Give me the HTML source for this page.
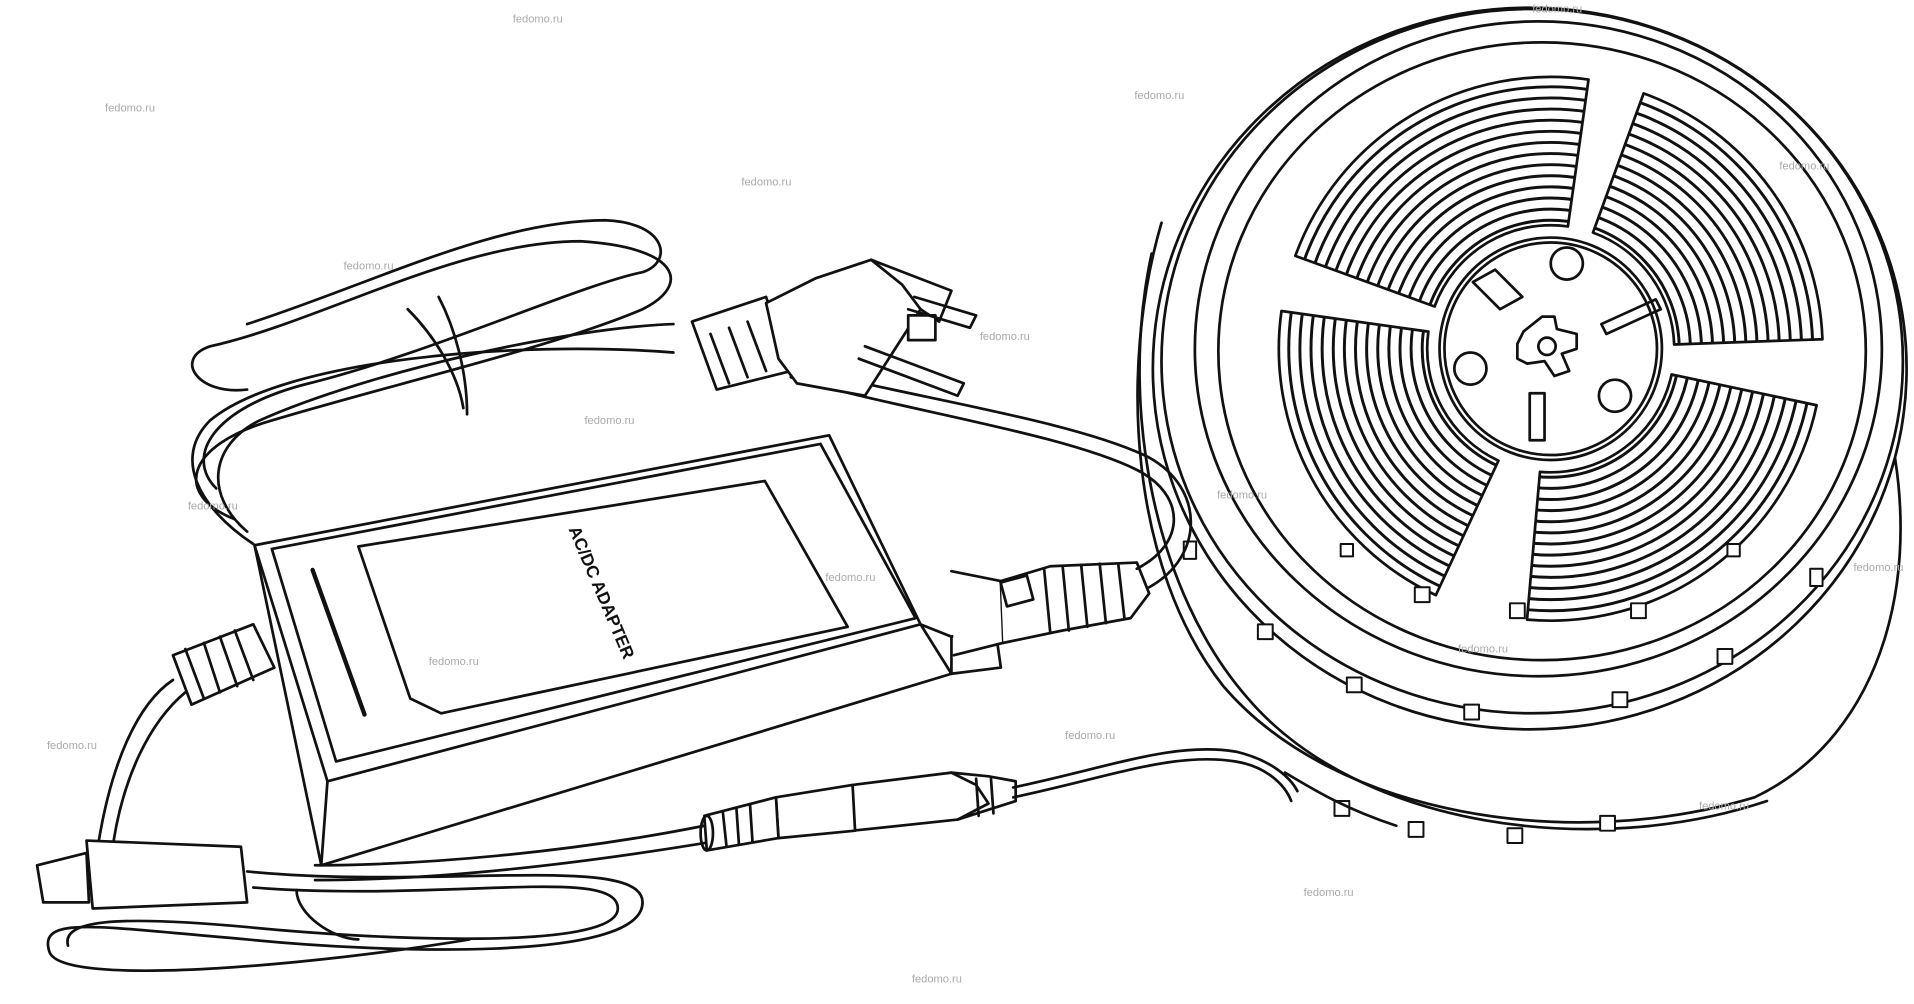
<!DOCTYPE html>
<html><head><style>
html,body{margin:0;padding:0;background:#fff;}
svg{display:block;}
text.w{font-family:"Liberation Sans",sans-serif;font-size:9px;fill:#aaa;}
</style></head><body>
<svg width="1914" height="1004" viewBox="0 0 1549 812" xmlns="http://www.w3.org/2000/svg">
<defs>
<clipPath id="w1"><path d="M1048.3 206.8 A220 220 0 0 1 1285.6 64.1 L1268.9 183 A100 100 0 0 0 1161 247.8 Z"/></clipPath>
<clipPath id="w2"><path d="M1330.2 75.3 A220 220 0 0 1 1474.9 274.3 L1354.9 278.5 A100 100 0 0 0 1289.2 188 Z"/></clipPath>
<clipPath id="w3"><path d="M1470.2 327.7 A220 220 0 0 1 1235.8 501.2 L1246.3 381.6 A100 100 0 0 0 1352.8 302.8 Z"/></clipPath>
<clipPath id="w4"><path d="M1162 481.4 A220 220 0 0 1 1037.1 251.4 L1156 268.1 A100 100 0 0 0 1212.7 372.6 Z"/></clipPath>
<g id="rings" fill="none" stroke="#111" stroke-width="2.4">
<circle cx="1255" cy="282" r="104"/><circle cx="1255" cy="282" r="113"/><circle cx="1255" cy="282" r="122"/>
<circle cx="1255" cy="282" r="131"/><circle cx="1255" cy="282" r="140"/><circle cx="1255" cy="282" r="149"/>
<circle cx="1255" cy="282" r="158"/><circle cx="1255" cy="282" r="167"/><circle cx="1255" cy="282" r="176"/>
<circle cx="1255" cy="282" r="185"/><circle cx="1255" cy="282" r="194"/><circle cx="1255" cy="282" r="203"/>
<circle cx="1255" cy="282" r="212"/>
</g>
</defs>
<g fill="none" stroke="#111" stroke-width="2.2" stroke-linejoin="round" stroke-linecap="round">
<!-- reel outer coil body -->
<path d="M940 180 C905 300 915 460 990 555 C1080 660 1270 690 1420 645 C1525 595 1560 460 1525 330" fill="#fff"/>
<path d="M932 205 C905 330 935 480 1010 565 C1100 670 1290 695 1430 648"/>
<ellipse cx="1238" cy="298" rx="305" ry="292" fill="#fff"/>
<ellipse cx="1240" cy="292" rx="300" ry="285"/>
<ellipse cx="1245" cy="282" rx="278" ry="265"/>
<ellipse cx="1248" cy="284" rx="262" ry="250"/>
<!-- windows -->
<g clip-path="url(#w1)"><use href="#rings"/></g>
<g clip-path="url(#w2)"><use href="#rings"/></g>
<g clip-path="url(#w3)"><use href="#rings"/></g>
<g clip-path="url(#w4)"><use href="#rings"/></g>
<path d="M1048.3 206.8 A220 220 0 0 1 1285.6 64.1 L1268.9 183 A100 100 0 0 0 1161 247.8 Z"/>
<path d="M1330.2 75.3 A220 220 0 0 1 1474.9 274.3 L1354.9 278.5 A100 100 0 0 0 1289.2 188 Z"/>
<path d="M1470.2 327.7 A220 220 0 0 1 1235.8 501.2 L1246.3 381.6 A100 100 0 0 0 1352.8 302.8 Z"/>
<path d="M1162 481.4 A220 220 0 0 1 1037.1 251.4 L1156 268.1 A100 100 0 0 0 1212.7 372.6 Z"/>
<!-- hub -->
<circle cx="1255" cy="282" r="90" fill="#fff"/>
<circle cx="1255" cy="282" r="86"/>
<circle cx="1268" cy="213" r="13"/>
<circle cx="1190" cy="298" r="13"/>
<circle cx="1307" cy="320" r="13"/>
<path d="M1233 268 L1248 256 L1258 256 L1260 266 L1276 270 L1276 282 L1264 286 L1270 300 L1258 304 L1250 292 L1236 294 L1228 290 L1228 278 Z"/>
<circle cx="1252" cy="280" r="7"/>
<path d="M1192 228 L1210 218 L1232 240 L1214 250 Z"/>
<path d="M1296 262 L1340 242 L1344 250 L1300 270 Z"/>
<path d="M1238 318 L1250 318 L1250 356 L1238 356 Z"/>
<!-- LEDs on outer rim -->
<g stroke-width="1.6" fill="#fff">
<rect x="1018" y="505" width="12" height="12"/><rect x="1090" y="548" width="12" height="12"/>
<rect x="1185" y="570" width="12" height="12"/><rect x="1305" y="560" width="12" height="12"/>
<rect x="1390" y="525" width="12" height="12"/><rect x="1465" y="460" width="10" height="14"/>
<rect x="958" y="438" width="10" height="14"/>
<rect x="1080" y="648" width="12" height="12"/><rect x="1140" y="665" width="12" height="12"/>
<rect x="1220" y="670" width="12" height="12"/><rect x="1295" y="660" width="12" height="12"/>
<rect x="1145" y="475" width="12" height="12"/><rect x="1222" y="488" width="12" height="12"/><rect x="1320" y="488" width="12" height="12"/>
<rect x="1398" y="440" width="10" height="10"/><rect x="1085" y="440" width="10" height="10"/>
</g>
<!-- strip from reel -->
<path d="M1040 625 C1065 640 1090 655 1130 668"/>
<path d="M820 637 C900 620 950 600 1000 608 C1030 615 1045 630 1050 640"/>
<path d="M820 645 C900 628 950 608 1000 616 C1025 620 1040 635 1045 648"/>
<!-- DC connector -->
<path d="M690 635 L770 625 L790 635 L800 650 L775 663 L690 672 Z" fill="#fff"/>
<path d="M770 625 L800 628 L822 632 L822 648 L800 655 L775 663"/>
<path d="M628 645 L690 635 L692 672 L630 678 Z" fill="#fff"/>
<path d="M570 660 L628 645 L630 678 L572 688 Z" fill="#fff"/>
<path d="M585 657 L588 685 M596 654 L598 683 M607 651 L609 681 M790 630 L792 660 M802 630 L804 658"/>
<ellipse cx="572" cy="674" rx="5" ry="14"/>
<!-- lower coil -->
<path d="M255 700 C340 700 460 690 570 668"/>
<path d="M255 712 C350 712 460 700 570 682"/>
<path d="M200 705 C350 720 520 690 520 730 C520 780 300 770 200 760 C80 750 30 740 40 770 C50 800 260 780 380 760"/>
<path d="M205 718 C360 730 500 700 500 735 C500 770 300 760 200 750 C90 740 50 745 55 765"/>
<path d="M240 720 C240 740 270 760 290 760"/>
<!-- adapter -->
<path d="M206 441 L671 352 L745 505 L770 515 L770 545 L260 700 Z" fill="#fff"/>
<path d="M206 441 L265 632 L745 505"/>
<path d="M265 632 L260 700"/>
<path d="M220 444 L664 359 L741 500 L272 616 Z"/>
<path d="M290 442 L619 389 L686 507 L357 577 L332 565 Z"/>
<path d="M253 461 L295 578" stroke-width="3.5"/>
<path d="M745 505 L770 545"/>
<!-- adapter right plug -->
<path d="M770 515 L805 505 L810 540 L770 545"/>
<path d="M770 462 L810 470 L812 520 L772 530" fill="#fff"/>
<path d="M810 470 L850 458 L920 455 L930 480 L915 500 L860 510 L812 520" fill="#fff"/>
<rect x="812" y="468" width="22" height="20" transform="rotate(-15 823 478)"/>
<path d="M845 460 L850 512 M860 458 L865 510 M875 457 L880 507 M890 456 L895 504 M905 456 L910 500"/>
<!-- left connector -->
<path d="M140 530 L205 505 L222 540 L155 570 Z" fill="#fff"/>
<path d="M150 525 L165 565 M165 520 L178 560 M178 515 L192 555 M190 510 L205 550"/>
<path d="M140 550 C110 570 90 620 80 680"/>
<path d="M150 560 C120 585 100 630 92 680"/>
<path d="M70 680 L195 685 L200 730 L75 735 Z" fill="#fff"/>
<path d="M30 700 L70 690 L72 730 L35 730 Z" fill="#fff"/>
<!-- upper cord from adapter connector to plug -->
<path d="M920 460 C960 440 960 400 920 380 C860 350 720 330 640 305"/>
<path d="M930 475 C975 450 975 395 930 370 C870 340 730 320 650 298"/>
<!-- coiled cable -->
<path d="M205 440 C160 410 140 370 170 340 C230 290 420 275 545 285"/>
<path d="M200 430 C165 400 170 360 210 340 C300 300 460 265 545 262"/>
<path d="M190 420 C140 400 150 360 220 340 C320 310 450 280 520 250 C560 230 550 200 470 195 C370 195 260 260 170 280 C140 290 160 320 200 315"/>
<path d="M175 395 C150 370 170 330 250 310 C350 285 470 230 520 220 C545 212 540 180 490 178 C400 178 300 230 200 262"/>
<path d="M330 250 C350 270 370 300 375 330"/>
<path d="M355 240 C368 265 378 300 378 335"/>
<!-- plug -->
<path d="M560 260 L620 240 L640 300 L580 315 Z" fill="#fff"/>
<path d="M575 270 L590 310 M590 265 L605 305 M605 260 L620 300"/>
<path d="M620 245 L660 225 L705 210 L730 230 L745 250 L700 320 L645 310 L630 290 Z" fill="#fff"/>
<path d="M705 210 L770 235 L760 260 L745 250"/>
<rect x="735" y="255" width="22" height="20" fill="#fff"/>
<path d="M700 280 L780 310 L775 320 L695 290"/>
<path d="M740 240 L790 255 L785 265 L735 250"/>
</g>
<text x="0" y="0" transform="translate(460,428) rotate(67)" font-family="Liberation Sans,sans-serif" font-weight="bold" font-size="14" fill="#111">AC/DC ADAPTER</text>
<g>
<text class="w" x="415" y="18">fedomo.ru</text><text class="w" x="85" y="90">fedomo.ru</text>
<text class="w" x="918" y="80">fedomo.ru</text><text class="w" x="600" y="150">fedomo.ru</text>
<text class="w" x="278" y="218">fedomo.ru</text><text class="w" x="793" y="275">fedomo.ru</text>
<text class="w" x="473" y="343">fedomo.ru</text><text class="w" x="152" y="412">fedomo.ru</text>
<text class="w" x="668" y="470">fedomo.ru</text><text class="w" x="347" y="538">fedomo.ru</text>
<text class="w" x="862" y="598">fedomo.ru</text><text class="w" x="38" y="606">fedomo.ru</text>
<text class="w" x="1055" y="725">fedomo.ru</text><text class="w" x="738" y="795">fedomo.ru</text>
<text class="w" x="1440" y="137">fedomo.ru</text><text class="w" x="1500" y="462">fedomo.ru</text>
<text class="w" x="1375" y="655">fedomo.ru</text><text class="w" x="1180" y="528">fedomo.ru</text>
<text class="w" x="985" y="403">fedomo.ru</text><text class="w" x="1240" y="10">fedomo.ru</text>
</g>
</svg>
</body></html>
